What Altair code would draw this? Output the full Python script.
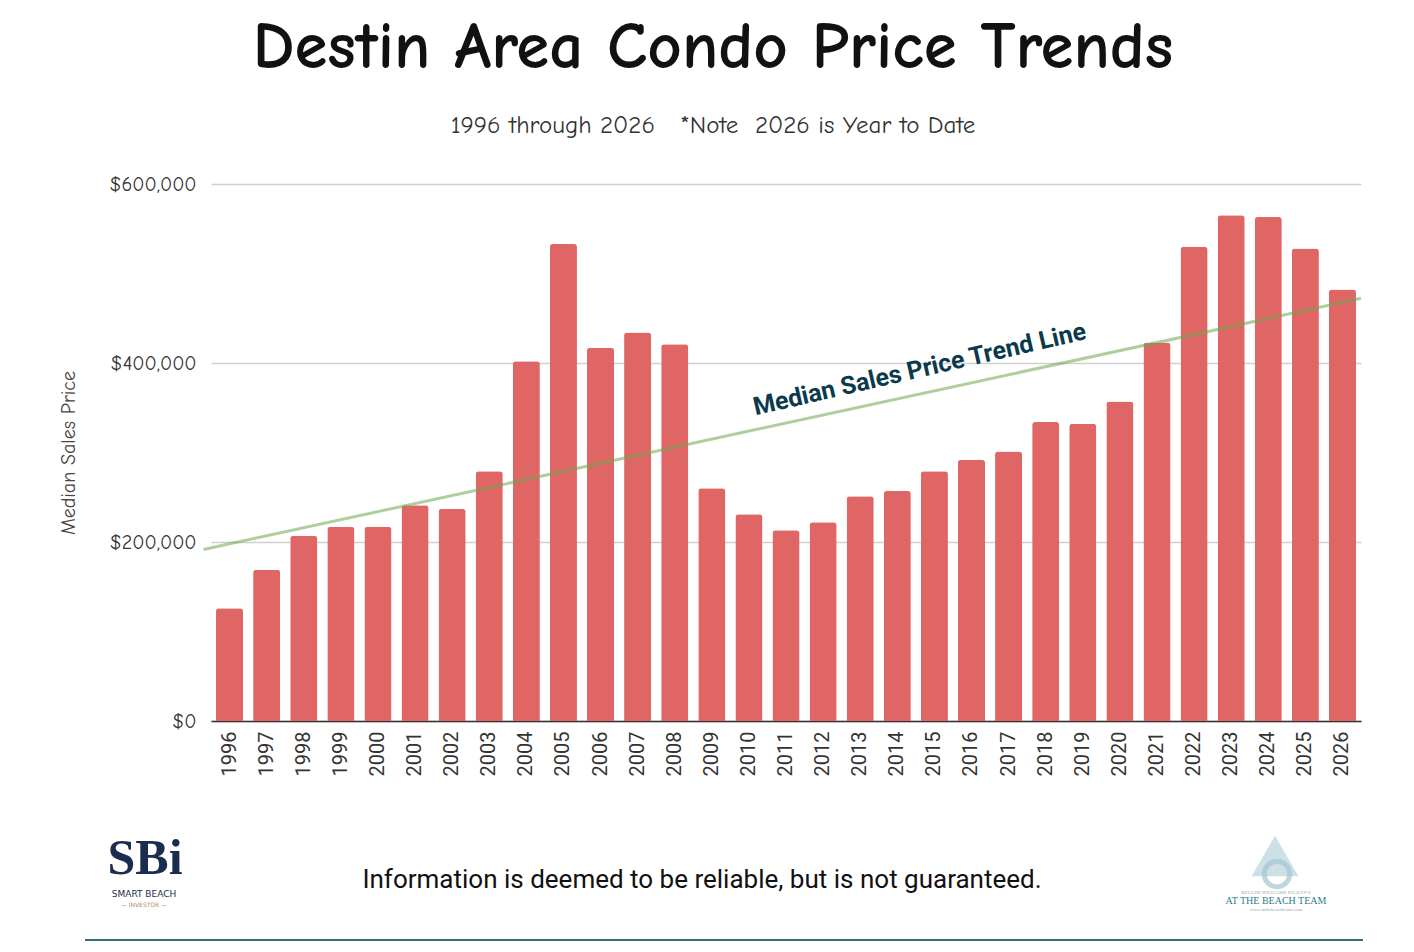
import altair as alt
import pandas as pd

years = list(range(1996, 2027))
prices = [126000, 169000, 207000, 217000, 217000, 241000, 237000, 279000,
          402000, 533000, 417000, 434000, 421000, 260000, 231000, 213000,
          222000, 251000, 257000, 279000, 292000, 301000, 334000, 332000,
          357000, 423000, 530000, 565000, 563000, 528000, 482000]

trend_label = ["Median Sales Price Trend Line"]
trend_label_year = [2014.6]
trend_label_price = [393000]

y_ticks = [0, 200000, 400000, 600000]

NB = "\u00a0"
title_text = "Destin Area Condo Price Trends"
subtitle_text = "1996 through 2026" + NB * 3 + "*Note" + NB * 2 + "2026 is Year to Date"
disclaimer = ["Information is deemed to be reliable, but is not guaranteed."]

df = pd.DataFrame({"year": years, "price": prices})
lab = pd.DataFrame({"t": trend_label, "year": trend_label_year, "price": trend_label_price})

W, H = 1150, 537
COMIC = "Comic Sans MS, Comic Neue, DejaVu Sans"

yscale = alt.Scale(domain=[0, 600000], nice=False)
qx = alt.Scale(domain=[1995.5, 2026.5], nice=False, zero=False)

bars = alt.Chart(df).mark_bar(color="#e06666", cornerRadiusTopLeft=3, cornerRadiusTopRight=3).encode(
    x=alt.X("year:O", title=None,
            scale=alt.Scale(paddingInner=0.27, paddingOuter=0.135),
            axis=alt.Axis(labelAngle=-90, labelFont="Roboto", labelFontSize=20,
                          labelColor="#333333", ticks=False, labelPadding=10,
                          domainColor="#333333", domainWidth=1.5)),
    y=alt.Y("price:Q", scale=yscale, title="Median Sales Price",
            axis=alt.Axis(values=y_ticks, format="$,.0f", labelFont=COMIC, labelFontSize=20,
                          labelColor="#333333", ticks=False, labelPadding=15, domain=False,
                          gridColor="#d0d0d0", gridWidth=1.5,
                          titleFont=COMIC, titleFontSize=20, titleFontWeight="normal",
                          titleColor="#444444", titlePadding=30)),
)

trend = alt.Chart(df).transform_regression(
    "year", "price", extent=[1995.3, 2026.5]
).mark_line(color="#6aa84f", opacity=0.55, strokeWidth=3, clip=False).encode(
    x=alt.X("year:Q", scale=qx, axis=None),
    y=alt.Y("price:Q", scale=yscale),
)

label = alt.Chart(lab).mark_text(
    font="Roboto", fontSize=25, fontWeight="bold", color="#0b3a4d", angle=347
).encode(
    x=alt.X("year:Q", scale=qx, axis=None),
    y=alt.Y("price:Q", scale=yscale),
    text="t:N",
)

foot_df = pd.DataFrame({"t": disclaimer})
foot = alt.Chart(foot_df).mark_text(font="Roboto", fontSize=26, color="#111111").encode(
    text="t:N", x=alt.value(491), y=alt.value(696)
)

sbi = alt.Chart(pd.DataFrame({"t": ["SBi"]})).mark_text(
    font="Liberation Serif", fontSize=50, color="#1b2d4f", fontWeight="bold"
).encode(text="t:N", x=alt.value(-66), y=alt.value(675))
sbi2 = alt.Chart(pd.DataFrame({"t": ["SMART BEACH"]})).mark_text(
    font="DejaVu Sans", fontSize=9, color="#1b2d4f"
).encode(text="t:N", x=alt.value(-67), y=alt.value(710))
sbi3 = alt.Chart(pd.DataFrame({"t": ["— INVESTOR —"]})).mark_text(
    font="DejaVu Sans", fontSize=6, color="#b08a5a"
).encode(text="t:N", x=alt.value(-67), y=alt.value(721))

kw = alt.Chart(pd.DataFrame({"t": ["KELLER WILLIAMS REALTY'S"]})).mark_text(
    font="Liberation Serif", fontSize=5, color="#9aa8ad"
).encode(text="t:N", x=alt.value(1065), y=alt.value(708))
beach = alt.Chart(pd.DataFrame({"t": ["AT THE BEACH TEAM"]})).mark_text(
    font="Liberation Serif", fontSize=10, color="#2e7d8c"
).encode(text="t:N", x=alt.value(1065), y=alt.value(717))
url = alt.Chart(pd.DataFrame({"t": ["www.atthebeachteam.com"]})).mark_text(
    font="Liberation Serif", fontSize=5, color="#9aa8ad"
).encode(text="t:N", x=alt.value(1065), y=alt.value(725))
shell = alt.Chart(pd.DataFrame({"t": ["shell"]})).mark_point(
    shape="triangle-up", filled=True, size=2200, color="#c9dde4", opacity=0.9
).encode(x=alt.value(1064), y=alt.value(672))
shell2 = alt.Chart(pd.DataFrame({"t": ["shell"]})).mark_point(
    shape="circle", filled=False, size=650, color="#a3c7d2", strokeWidth=5
).encode(x=alt.value(1066), y=alt.value(690))

rule = alt.Chart(pd.DataFrame({"t": ["line"]})).mark_rule(color="#2f6f7b", strokeWidth=2).encode(
    x=alt.value(-126), x2=alt.value(1152), y=alt.value(756)
)

chart = alt.layer(bars, trend, label, foot, sbi, sbi2, sbi3, shell, shell2, kw, beach, url, rule).resolve_scale(
    x="independent"
).properties(
    width=W, height=H,
    padding={"left": 50, "top": 6, "right": 10, "bottom": 5},
    title=alt.TitleParams(
        text=title_text, subtitle=subtitle_text,
        font=COMIC, fontSize=67, fontWeight="bold", color="#111111",
        subtitleFont=COMIC, subtitleFontSize=25, subtitleColor="#333333",
        subtitlePadding=31, offset=35, anchor="middle", frame="bounds",
    ),
).configure(background="white").configure_view(strokeWidth=0)

chart.save("out.html", embed_options={"renderer": "svg", "actions": False})
